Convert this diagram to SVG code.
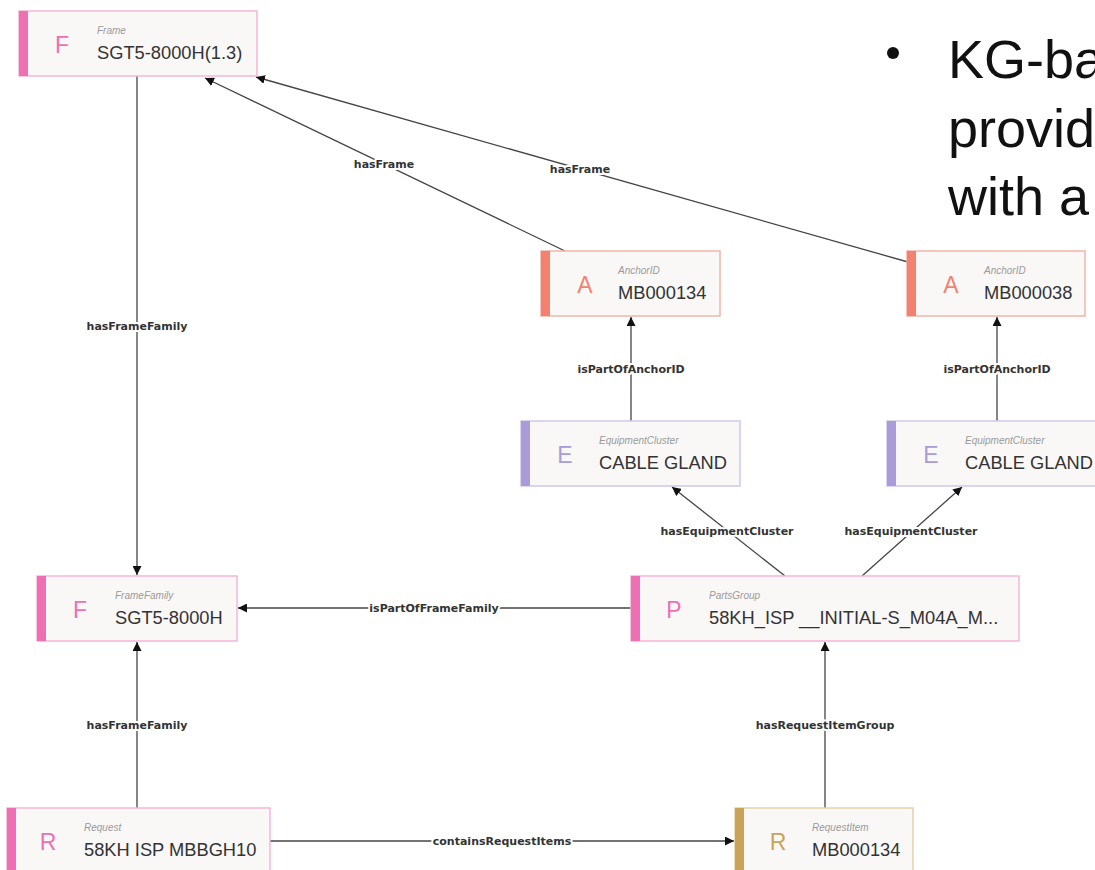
<svg xmlns="http://www.w3.org/2000/svg" width="1095" height="870" viewBox="0 0 1095 870">
<defs>
<marker id="arr" viewBox="0 0 10 10" refX="10" refY="5" markerWidth="9" markerHeight="9" markerUnits="userSpaceOnUse" orient="auto">
<path d="M0,0 L10,5 L0,10 z" fill="#111"/>
</marker>
</defs>
<style>
.box{fill:#f9f8f7;stroke-width:1.5}
.pk .box{stroke:#f6b6d6}.pk .bar,.pk .ltr{fill:#ef70b2}
.an .box{stroke:#f5b3a9}.an .bar,.an .ltr{fill:#f2826f}
.eq .box{stroke:#cfc7ec}.eq .bar,.eq .ltr{fill:#a99cd9}
.gd .box{stroke:#e3d3a6}.gd .bar,.gd .ltr{fill:#c9a458}
.ltr{font-family:"Liberation Sans",Arial,sans-serif;font-size:23px;text-anchor:middle}
.typ{font-family:"Liberation Sans",Arial,sans-serif;font-size:10px;font-style:italic;fill:#9a9a9a}
.val{font-family:"Liberation Sans",Arial,sans-serif;font-size:18.3px;fill:#333}
.edge{stroke:#444;stroke-width:1.3;fill:none;marker-end:url(#arr)}
.elab{font-family:"DejaVu Sans",Verdana,sans-serif;font-size:11px;font-weight:bold;fill:#333;text-anchor:middle;stroke:#fff;stroke-width:4;paint-order:stroke;stroke-linejoin:round}
.big{font-family:"Liberation Sans",Arial,sans-serif;font-size:54px;fill:#111}
</style>
<rect width="1095" height="870" fill="#fff"/>

<g id="connectors">
<line class="edge" x1="137" y1="76" x2="137" y2="575"/>
<line class="edge" x1="565" y1="251" x2="205" y2="78"/>
<line class="edge" x1="908" y1="262" x2="256" y2="77"/>
<line class="edge" x1="631" y1="421" x2="631" y2="317"/>
<line class="edge" x1="997" y1="421" x2="997" y2="317"/>
<line class="edge" x1="785" y1="576" x2="672" y2="487"/>
<line class="edge" x1="862" y1="576" x2="962" y2="487"/>
<line class="edge" x1="631" y1="608" x2="238" y2="608"/>
<line class="edge" x1="825" y1="808" x2="825" y2="642"/>
<line class="edge" x1="137" y1="808" x2="137" y2="642"/>
<line class="edge" x1="270" y1="841" x2="734" y2="841"/>
<text class="elab" x="137" y="330">hasFrameFamily</text>
<text class="elab" x="384" y="168">hasFrame</text>
<text class="elab" x="580" y="173">hasFrame</text>
<text class="elab" x="631" y="373">isPartOfAnchorID</text>
<text class="elab" x="997" y="373">isPartOfAnchorID</text>
<text class="elab" x="727" y="535">hasEquipmentCluster</text>
<text class="elab" x="911" y="535">hasEquipmentCluster</text>
<text class="elab" x="434" y="612">isPartOfFrameFamily</text>
<text class="elab" x="825" y="729">hasRequestItemGroup</text>
<text class="elab" x="137" y="729">hasFrameFamily</text>
<text class="elab" x="502" y="845">containsRequestItems</text>
</g>

<g id="frame" class="pk">
<rect class="box" x="19" y="11" width="238" height="65"/>
<rect class="bar" x="19" y="11" width="9" height="65"/>
<text class="ltr" x="62" y="53">F</text>
<text class="typ" x="97" y="34">Frame</text>
<text class="val" x="97" y="59">SGT5-8000H(1.3)</text>
</g>

<g id="anchor1" class="an">
<rect class="box" x="541" y="251" width="179" height="65"/>
<rect class="bar" x="541" y="251" width="9" height="65"/>
<text class="ltr" x="585" y="293">A</text>
<text class="typ" x="618" y="274">AnchorID</text>
<text class="val" x="618" y="299">MB000134</text>
</g>

<g id="anchor2" class="an">
<rect class="box" x="907" y="251" width="178" height="65"/>
<rect class="bar" x="907" y="251" width="9" height="65"/>
<text class="ltr" x="951" y="293">A</text>
<text class="typ" x="984" y="274">AnchorID</text>
<text class="val" x="984" y="299">MB000038</text>
</g>

<g id="equip1" class="eq">
<rect class="box" x="521" y="421" width="219" height="65"/>
<rect class="bar" x="521" y="421" width="9" height="65"/>
<text class="ltr" x="565" y="463">E</text>
<text class="typ" x="599" y="444">EquipmentCluster</text>
<text class="val" x="599" y="469">CABLE GLAND</text>
</g>

<g id="equip2" class="eq">
<rect class="box" x="887" y="421" width="219" height="65"/>
<rect class="bar" x="887" y="421" width="9" height="65"/>
<text class="ltr" x="931" y="463">E</text>
<text class="typ" x="965" y="444">EquipmentCluster</text>
<text class="val" x="965" y="469">CABLE GLAND</text>
</g>

<g id="framefamily" class="pk">
<rect class="box" x="37" y="576" width="200" height="65"/>
<rect class="bar" x="37" y="576" width="9" height="65"/>
<text class="ltr" x="80" y="618">F</text>
<text class="typ" x="115" y="599">FrameFamily</text>
<text class="val" x="115" y="624">SGT5-8000H</text>
</g>

<g id="partsgroup" class="pk">
<rect class="box" x="631" y="576" width="388" height="65"/>
<rect class="bar" x="631" y="576" width="9" height="65"/>
<text class="ltr" x="674" y="618">P</text>
<text class="typ" x="709" y="599">PartsGroup</text>
<text class="val" x="709" y="624">58KH_ISP __INITIAL-S_M04A_M...</text>
</g>

<g id="request" class="pk">
<rect class="box" x="7" y="808" width="263" height="65"/>
<rect class="bar" x="7" y="808" width="9" height="65"/>
<text class="ltr" x="48" y="850">R</text>
<text class="typ" x="84" y="831">Request</text>
<text class="val" x="84" y="856">58KH ISP MBBGH10</text>
</g>

<g id="requestitem" class="gd">
<rect class="box" x="735" y="808" width="178" height="65"/>
<rect class="bar" x="735" y="808" width="9" height="65"/>
<text class="ltr" x="778" y="850">R</text>
<text class="typ" x="812" y="831">RequestItem</text>
<text class="val" x="812" y="856">MB000134</text>
</g>

<g id="bullets">
<circle cx="893" cy="53" r="6" fill="#111"/>
<text class="big" x="948" y="78">KG-ba</text>
<text class="big" x="948" y="147">provid</text>
<text class="big" x="948" y="215">with a</text>
</g>
</svg>
